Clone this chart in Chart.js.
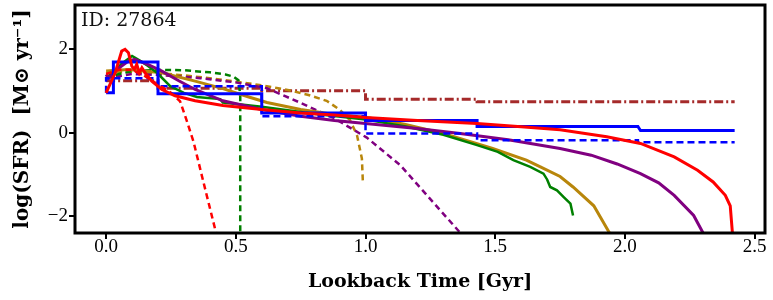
<!DOCTYPE html>
<html>
<head>
<meta charset="utf-8">
<script src="https://cdn.jsdelivr.net/npm/chart.js@4.4.0/dist/chart.umd.min.js"></script>
<style>
  html, body { margin: 0; padding: 0; background: #fff; }
  #wrap { width: 773px; height: 300px; }
</style>
</head>
<body>
<div id="wrap"><canvas id="sfh"></canvas></div>
<script>
// Star formation histories for object 27864
const objectId = 'ID: 27864';
const xTicks = [0.0, 0.5, 1.0, 1.5, 2.0, 2.5];
const yTicks = [-2, 0, 2];

// blue solid (binned, step)
const blueSolidX = [0, 0.028, 0.028, 0.2, 0.2, 0.6, 0.6, 1.0, 1.0, 1.43, 1.43, 2.05, 2.06, 2.423];
const blueSolidY = [0.95, 0.95, 1.69, 1.69, 0.93, 0.93, 0.47, 0.47, 0.29, 0.29, 0.145, 0.145, 0.05, 0.05];

// blue dashed (binned, step)
const blueDashX = [0, 0, 0.2, 0.2, 0.6, 0.6, 1.0, 1.0, 1.43, 1.43, 2.05, 2.05, 2.423];
const blueDashY = [0.95, 1.3, 1.3, 1.11, 1.11, 0.39, 0.39, -0.02, -0.02, -0.18, -0.18, -0.23, -0.23];

// brown dash-dot (binned, step)
const brownX = [0, 0.2, 0.2, 0.6, 0.6, 1.0, 1.0, 1.43, 1.43, 2.423];
const brownY = [1.24, 1.24, 1.06, 1.06, 1.0, 1.0, 0.8, 0.8, 0.74, 0.74];

// red solid
const redSolidX = [0, 0.035, 0.06, 0.073, 0.086, 0.099, 0.109, 0.118, 0.128, 0.138, 0.15, 0.176, 0.215, 0.266, 0.343, 0.45, 0.6, 0.75, 0.88, 1.0, 1.2, 1.43, 1.6, 1.75, 1.93, 2.06, 2.19, 2.28, 2.34, 2.387, 2.406, 2.417];
const redSolidY = [0.95, 1.43, 1.95, 1.99, 1.91, 1.59, 1.51, 1.63, 1.43, 1.55, 1.43, 1.23, 1.03, 0.88, 0.76, 0.65, 0.55, 0.47, 0.42, 0.36, 0.29, 0.22, 0.14, 0.07, -0.10, -0.26, -0.58, -0.90, -1.18, -1.50, -1.75, -2.6];

// red dashed
const redDashX = [0, 0.05, 0.1, 0.15, 0.2, 0.25, 0.285, 0.31, 0.337, 0.375, 0.43];
const redDashY = [1.4, 1.5, 1.5, 1.35, 1.15, 0.95, 0.75, 0.3, -0.22, -1.18, -2.55];

// green solid
const greenSolidX = [0, 0.03, 0.06, 0.1, 0.13, 0.16, 0.196, 0.247, 0.3, 0.35, 0.44, 0.45, 0.6, 0.8, 1.0, 1.15, 1.3, 1.43, 1.51, 1.57, 1.635, 1.686, 1.70, 1.712, 1.738, 1.764, 1.79, 1.80];
const greenSolidY = [1.31, 1.45, 1.65, 1.83, 1.72, 1.6, 1.43, 1.11, 0.95, 0.85, 0.8, 0.72, 0.62, 0.45, 0.31, 0.15, -0.05, -0.30, -0.46, -0.66, -0.82, -0.98, -1.12, -1.30, -1.38, -1.54, -1.70, -1.98];

// green dashed
const greenDashX = [0, 0.05, 0.1, 0.2, 0.3, 0.4, 0.46, 0.49, 0.51, 0.517, 0.517];
const greenDashY = [1.3, 1.4, 1.47, 1.5, 1.49, 1.44, 1.39, 1.34, 1.25, 0.9, -2.6];

// goldenrod solid
const goldSolidX = [0, 0.086, 0.215, 0.343, 0.45, 0.55, 0.62, 0.75, 0.88, 1.0, 1.15, 1.3, 1.49, 1.62, 1.674, 1.75, 1.80, 1.88, 1.95];
const goldSolidY = [1.47, 1.51, 1.43, 1.23, 1.05, 0.85, 0.72, 0.55, 0.43, 0.37, 0.2, -0.02, -0.38, -0.66, -0.82, -1.05, -1.30, -1.75, -2.5];

// goldenrod dashed
const goldDashX = [0, 0.1, 0.2, 0.3, 0.4, 0.5, 0.6, 0.7, 0.78, 0.85, 0.9, 0.94, 0.967, 0.986, 0.99];
const goldDashY = [1.43, 1.45, 1.42, 1.37, 1.3, 1.22, 1.13, 1.02, 0.9, 0.76, 0.55, 0.3, -0.06, -0.62, -1.22];

// purple solid
const purpleSolidX = [0, 0.01, 0.04, 0.086, 0.11, 0.16, 0.215, 0.28, 0.343, 0.45, 0.6, 0.75, 0.88, 1.0, 1.2, 1.365, 1.55, 1.75, 1.87, 1.97, 2.06, 2.13, 2.19, 2.265, 2.31];
const purpleSolidY = [1.39, 1.3, 1.5, 1.71, 1.75, 1.63, 1.47, 1.24, 1.03, 0.76, 0.55, 0.39, 0.29, 0.22, 0.1, -0.02, -0.17, -0.38, -0.54, -0.75, -0.98, -1.2, -1.50, -1.98, -2.5];

// purple dashed
const purpleDashX = [0, 0.1, 0.2, 0.363, 0.5, 0.62, 0.75, 0.877, 1.005, 1.134, 1.26, 1.38];
const purpleDashY = [1.3, 1.4, 1.38, 1.3, 1.2, 1.06, 0.71, 0.35, -0.12, -0.78, -1.66, -2.5];

function pts(xs, ys) {
  return xs.map((x, i) => ({ x: x, y: ys[i] }));
}

function line(label, xs, ys, color, width, dash) {
  return {
    label: label,
    data: pts(xs, ys),
    borderColor: color,
    backgroundColor: color,
    borderWidth: width,
    borderDash: dash || [],
    pointRadius: 0,
    tension: 0,
    fill: false
  };
}

// draws the black box around the axes and the object id
const frame = {
  id: 'frame',
  afterDraw(chart) {
    const a = chart.chartArea;
    const ctx = chart.ctx;
    ctx.save();
    ctx.strokeStyle = '#000';
    ctx.lineWidth = 3;
    ctx.strokeRect(a.left, a.top, a.right - a.left, a.bottom - a.top);
    ctx.fillStyle = '#111';
    ctx.font = '19px "DejaVu Serif", serif';
    ctx.textBaseline = 'alphabetic';
    ctx.fillText(objectId, a.left + 6, a.top + 21);
    ctx.restore();
  }
};

const serif = '"Liberation Serif", "DejaVu Serif", serif';

new Chart(document.getElementById('sfh'), {
  type: 'line',
  data: {
    // first dataset is drawn on top
    datasets: [
      line('red', redSolidX, redSolidY, '#ff0000', 3),
      line('blue', blueSolidX, blueSolidY, '#0000ff', 3),
      line('red dashed', redDashX, redDashY, '#ff0000', 2.5, [6, 4]),
      line('blue dashed', blueDashX, blueDashY, '#0000ff', 2.5, [7, 4]),
      line('purple', purpleSolidX, purpleSolidY, '#800080', 3),
      line('green', greenSolidX, greenSolidY, '#008000', 2.5),
      line('gold', goldSolidX, goldSolidY, '#b8860b', 3),
      line('green dashed', greenDashX, greenDashY, '#008000', 2.5, [6, 4]),
      line('purple dashed', purpleDashX, purpleDashY, '#800080', 2.5, [6, 4]),
      line('gold dashed', goldDashX, goldDashY, '#b8860b', 2.5, [6, 4]),
      line('brown', brownX, brownY, '#a52a2a', 3, [9, 3, 2, 3])
    ]
  },
  options: {
    responsive: true,
    maintainAspectRatio: false,
    animation: false,
    layout: { padding: { left: 0, right: 8, top: 5, bottom: 0 } },
    plugins: {
      legend: { display: false },
      tooltip: { enabled: false }
    },
    scales: {
      x: {
        type: 'linear',
        min: -0.12,
        max: 2.54,
        afterFit: s => { s.height = 67; s.paddingLeft = 0; s.paddingRight = 0; },
        afterBuildTicks: s => { s.ticks = xTicks.map(v => ({ value: v })); },
        ticks: {
          color: '#000',
          padding: -1,
          font: { family: serif, size: 19, lineHeight: 1 },
          callback: v => v.toFixed(1)
        },
        grid: { drawOnChartArea: false, drawTicks: true, tickLength: 6, color: '#000', lineWidth: 2 },
        border: { display: false },
        title: {
          display: true,
          text: 'Lookback Time [Gyr]',
          color: '#000',
          padding: { top: 0, bottom: 7 },
          font: { family: '"DejaVu Serif", serif', size: 19, weight: 'bold' }
        }
      },
      y: {
        type: 'linear',
        min: -2.40,
        max: 3.05,
        afterFit: s => { s.width = 75; s.paddingTop = 0; s.paddingBottom = 0; },
        afterBuildTicks: s => { s.ticks = yTicks.map(v => ({ value: v })); },
        ticks: {
          color: '#000',
          padding: 1,
          font: { family: serif, size: 19 },
          callback: v => (v < 0 ? '\u2212' + Math.abs(v) : String(v))
        },
        grid: { drawOnChartArea: false, drawTicks: true, tickLength: 6, color: '#000', lineWidth: 2 },
        border: { display: false },
        title: {
          display: true,
          text: 'log(SFR)  [M\u2299 yr\u207B\u00B9]',
          color: '#000',
          padding: { top: 11, bottom: 0 },
          font: { family: '"DejaVu Serif", serif', size: 20, weight: 'bold' }
        }
      }
    }
  },
  plugins: [frame]
});
</script>
</body>
</html>
